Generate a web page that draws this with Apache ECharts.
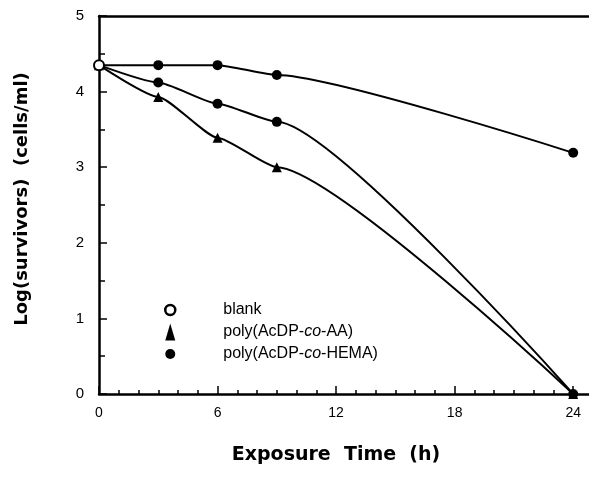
<!DOCTYPE html>
<html>
<head>
<meta charset="utf-8">
<script src="https://cdn.jsdelivr.net/npm/echarts@6/dist/echarts.min.js"></script>
<style>html,body{margin:0;padding:0;background:#fff}#c{width:589px;height:480px}</style>
</head>
<body>
<div id="c"></div>
<script>
const hours = [0, 3, 6, 9, 24];
const blankVals = [4.35, 4.35, 4.35, 4.22, 3.19];
const aaVals = [4.35, 3.93, 3.39, 3.0, 0];
const hemaVals = [4.35, 4.12, 3.84, 3.6, 0];
const xMajorTicks = [0, 6, 12, 18, 24];
const xMinorTicks = [1,2,3,4,5,7,8,9,10,11,13,14,15,16,17,19,20,21,22,23];
const seriesNames = ['blank', 'poly(AcDP-co-AA)', 'poly(AcDP-co-HEMA)'];

const pair = (xs, ys) => xs.map((x, i) => [x, ys[i]]);
const font = '"Liberation Sans", Arial, sans-serif';
const heavy = '"DejaVu Sans", "Liberation Sans", sans-serif';
const chart = echarts.init(document.getElementById('c'), null, {renderer: 'canvas'});

const blankData = pair(hours, blankVals).map((p, i) => i === 0
  ? {value: p, symbol: 'circle', itemStyle: {color: '#fff', borderColor: '#000', borderWidth: 2}}
  : {value: p});

chart.setOption({
  animation: false,
  backgroundColor: '#fff',
  grid: {left: 99, right: 0, top: 16, bottom: 86, containLabel: false},
  legend: {
    orient: 'vertical', left: 159, top: 297, itemGap: 5.5, itemWidth: 10, itemHeight: 17,
    selectedMode: false,
    textStyle: {fontFamily: font, fontSize: 16, color: '#000', padding: [0, 0, 0, 43],
      rich: {i: {fontStyle: 'italic', fontFamily: font, fontSize: 16, color: '#000'}}},
    formatter: n => n.replace('-co-', '-{i|co}-'),
    data: [
      {name: seriesNames[0], icon: 'circle', itemStyle: {color: '#fff', borderColor: '#000', borderWidth: 2.5}},
      {name: seriesNames[1], icon: 'triangle', itemStyle: {color: '#000'}},
      {name: seriesNames[2], icon: 'circle', itemStyle: {color: '#000'}}
    ]
  },
  xAxis: [{
    type: 'value', min: 0, max: 24.8, position: 'bottom',
    name: 'Exposure  Time  (h)', nameLocation: 'middle', nameGap: 52,
    nameTextStyle: {fontFamily: heavy, fontSize: 19, fontWeight: 'bold', color: '#000', padding: [0, 16, 0, 0]},
    axisLine: {lineStyle: {color: '#000', width: 2.5}},
    axisTick: {inside: true, length: 4, customValues: xMinorTicks, lineStyle: {color: '#000', width: 1.5}},
    axisLabel: {customValues: xMajorTicks, margin: 12, fontFamily: font, fontSize: 14, color: '#000'},
    splitLine: {show: false}
  }, {
    type: 'value', min: 0, max: 24.8, position: 'bottom',
    axisLine: {show: false},
    axisTick: {inside: true, length: 8, customValues: xMajorTicks, lineStyle: {color: '#000', width: 1.5}},
    axisLabel: {show: false}, splitLine: {show: false}
  }, {
    type: 'value', min: 0, max: 24.8, position: 'top',
    axisLine: {lineStyle: {color: '#000', width: 2.5}},
    axisTick: {show: false}, axisLabel: {show: false}, splitLine: {show: false}
  }],
  yAxis: {
    type: 'value', min: 0, max: 5, interval: 1,
    name: 'Log(survivors)  (cells/ml)', nameLocation: 'middle', nameGap: 68,
    nameTextStyle: {fontFamily: heavy, fontSize: 18, fontWeight: 'bold', color: '#000', padding: [0, 0, 0, 12]},
    axisLine: {lineStyle: {color: '#000', width: 2.5}},
    axisTick: {inside: true, length: 8, lineStyle: {color: '#000', width: 1.5}},
    minorTick: {show: true, splitNumber: 2, length: 6, lineStyle: {color: '#000', width: 1.5}},
    axisLabel: {margin: 15, fontFamily: font, fontSize: 15, color: '#000'},
    splitLine: {show: false}, minorSplitLine: {show: false}
  },
  series: [
    {name: seriesNames[1], type: 'line', smooth: 0.18, smoothMonotone: 'x', data: pair(hours, aaVals),
     symbol: 'triangle', symbolSize: 10, z: 3,
     lineStyle: {color: '#000', width: 2}, itemStyle: {color: '#000'}},
    {name: seriesNames[2], type: 'line', smooth: 0.18, smoothMonotone: 'x', data: pair(hours, hemaVals),
     symbol: 'circle', symbolSize: 10, z: 3,
     lineStyle: {color: '#000', width: 2}, itemStyle: {color: '#000'}},
    {name: seriesNames[0], type: 'line', smooth: 0.18, smoothMonotone: 'x', data: blankData,
     symbol: 'circle', symbolSize: 10, z: 4,
     lineStyle: {color: '#000', width: 2}, itemStyle: {color: '#000'}}
  ]
});
</script>
</body>
</html>
